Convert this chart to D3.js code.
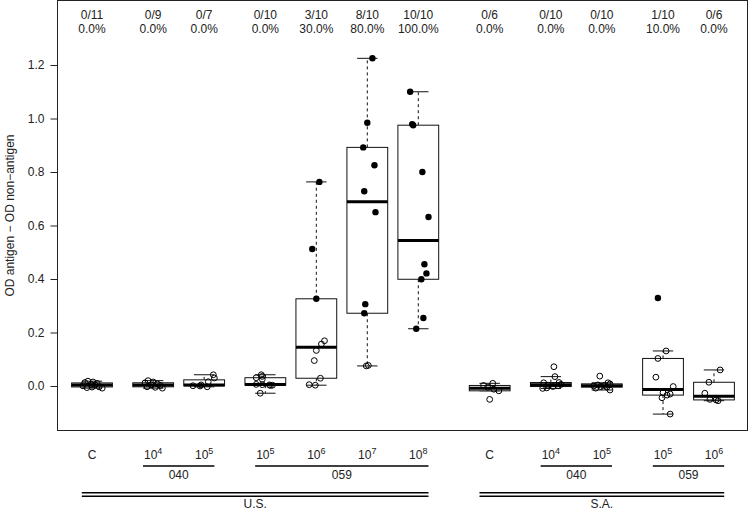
<!DOCTYPE html>
<html>
<head>
<meta charset="utf-8">
<script src="https://cdnjs.cloudflare.com/ajax/libs/d3/7.8.5/d3.min.js"></script>
<style>
    body { margin: 0; background: #fff; }
    svg { display: block; font-family: "Liberation Sans", Arial, sans-serif; }
</style>
</head>
<body>
<div id="chart"></div>
<script>
// groups, left to right
const regions = ["U.S.", "U.S.", "U.S.", "U.S.", "U.S.", "U.S.", "U.S.", "S.A.", "S.A.", "S.A.", "S.A.", "S.A."];
const strains = ["C", "040", "040", "059", "059", "059", "059", "C", "040", "040", "059", "059"];
const doseExp = [null, 4, 5, 5, 6, 7, 8, null, 4, 5, 5, 6];

// OD antigen - OD non-antigen, per group
const usC     = [0.018, 0.015, 0.013, 0.010, 0.006, 0.004, 0.001, -0.003, -0.004, -0.006, -0.008];
const us040e4 = [0.020, 0.015, 0.012, 0.008, 0.004, 0.002, -0.003, -0.005, -0.008];
const us040e5 = [0.042, 0.030, 0.016, 0.004, 0.001, 0.000, -0.003];
const us059e5 = [0.042, 0.036, 0.031, 0.025, 0.006, 0.005, 0.004, 0.003, 0.002, -0.027];
const us059e6 = [0.763, 0.512, 0.326, 0.169, 0.157, 0.133, 0.095, 0.029, 0.005, 0.003];
const us059e7 = [1.225, 0.984, 0.892, 0.825, 0.728, 0.650, 0.306, 0.272, 0.077, 0.075];
const us059e8 = [1.100, 0.979, 0.975, 0.800, 0.632, 0.455, 0.421, 0.399, 0.254, 0.214];
const saC     = [0.010, 0.002, -0.005, -0.012, -0.018, -0.050];
const sa040e4 = [0.072, 0.035, 0.013, 0.012, 0.006, 0.003, 0.001, -0.002, -0.007, -0.009];
const sa040e5 = [0.037, 0.012, 0.008, 0.004, 0.002, 0.000, -0.002, -0.004, -0.008, -0.015];
const sa059e5 = [0.329, 0.131, 0.103, 0.033, -0.002, -0.025, -0.030, -0.034, -0.044, -0.105];
const sa059e6 = [0.060, 0.014, -0.027, -0.050, -0.052, -0.055];

// horizontal jitter of each point (in group units)
const usCJit     = [-0.08, 0.02, -0.14, 0.10, -0.02, 0.06, -0.18, 0.14, 0.00, -0.10, 0.20];
const us040e4Jit = [-0.10, 0.00, -0.16, 0.08, -0.04, 0.14, -0.12, 0.04, 0.18];
const us040e5Jit = [0.18, 0.20, 0.08, -0.06, -0.22, -0.08, 0.06];
const us059e5Jit = [-0.08, -0.06, -0.18, -0.06, -0.18, -0.06, 0.08, 0.14, 0.10, -0.10];
const us059e6Jit = [0.06, -0.08, 0.00, 0.16, 0.10, 0.00, -0.04, 0.08, -0.14, -0.02];
const us059e7Jit = [0.10, 0.00, -0.08, 0.14, -0.06, 0.16, -0.04, -0.06, 0.02, -0.02];
const us059e8Jit = [-0.16, -0.12, -0.10, 0.08, 0.20, 0.12, 0.16, 0.06, 0.10, -0.04];
const saCJit     = [0.06, -0.12, -0.04, 0.08, 0.18, 0.00];
const sa040e4Jit = [0.06, 0.08, 0.16, -0.14, 0.20, -0.06, 0.14, 0.04, -0.08, -0.16];
const sa040e5Jit = [-0.04, 0.12, 0.16, -0.08, 0.06, -0.16, -0.02, 0.10, -0.12, 0.16];
const sa059e5Jit = [-0.10, 0.06, -0.10, -0.14, 0.20, 0.00, 0.14, 0.08, -0.02, 0.14];
const sa059e6Jit = [0.12, -0.10, -0.18, -0.08, 0.04, 0.08];

const cutoff = 0.2;
const yTicks = [0, 0.2, 0.4, 0.6, 0.8, 1.0, 1.2];

const values = [usC, us040e4, us040e5, us059e5, us059e6, us059e7, us059e8, saC, sa040e4, sa040e5, sa059e5, sa059e6];
const jitter = [usCJit, us040e4Jit, us040e5Jit, us059e5Jit, us059e6Jit, us059e7Jit, us059e8Jit, saCJit, sa040e4Jit, sa040e5Jit, sa059e5Jit, sa059e6Jit];

// R style fivenum (Tukey hinges)
const fivenum = vals => {
    let s = vals.slice().sort((a, b) => a - b), n = s.length;
    let n4 = Math.floor((n + 3) / 2) / 2;
    let d = [1, n4, (n + 1) / 2, n + 1 - n4, n];
    return d.map(i => 0.5 * (s[Math.floor(i) - 1] + s[Math.ceil(i) - 1]));
};

const renderChart = (container) => {
    const width = 750, height = 509;
    const plot = {left: 57.5, right: 747.5, top: 0.5, bottom: 430.5};

    // group positions: extra gap when strain changes, more when region changes
    let pos = [], p = 0;
    regions.forEach((r, i) => {
        if (i > 0) {
            p += 1;
            if (r !== regions[i - 1]) p += 0.4;
            else if (strains[i] !== strains[i - 1]) p += 0.2;
        }
        pos.push(p);
    });

    let x = d3.scaleLinear().domain([0, 12.2]).range([92, 714]);
    let y = d3.scaleLinear().domain([0, 1.2]).range([386, 65]);

    let svg = d3.select(container)
        .append("svg")
        .attr("width", width)
        .attr("height", height);

    // y axis
    svg.append("g")
        .attr("transform", "translate(" + plot.left + ",0)")
        .call(d3.axisLeft(y).tickValues(yTicks).tickFormat(d3.format(".1f")).tickSize(7).tickPadding(6))
        .call(g => g.select(".domain").remove())
        .call(g => g.selectAll("line").attr("stroke", "#222"))
        .call(g => g.selectAll("text").attr("font-size", 12).attr("fill", "#222")
            .attr("font-family", "'Liberation Sans', Arial, sans-serif"));

    svg.append("text")
        .attr("transform", "translate(14," + ((plot.top + plot.bottom) / 2) + ") rotate(-90)")
        .attr("text-anchor", "middle")
        .attr("font-size", 12)
        .attr("fill", "#222")
        .text("OD antigen \u2212 OD non\u2212antigen");

    let stats = values.map(v => {
        let f = fivenum(v), iqr = f[3] - f[1];
        let lo = d3.min(v.filter(d => d >= f[1] - 1.5 * iqr));
        let hi = d3.max(v.filter(d => d <= f[3] + 1.5 * iqr));
        return {q1: f[1], med: f[2], q3: f[3], lo: lo, hi: hi};
    });

    let boxW = x(0.4) - x(0), capW = x(0.2) - x(0);

    let boxes = svg.append("g").attr("class", "boxes")
        .selectAll("g")
        .data(stats)
        .enter().append("g")
        .attr("transform", (d, i) => "translate(" + x(pos[i]) + ",0)");

    // whiskers
    boxes.append("line")
        .attr("y1", d => y(d.q3)).attr("y2", d => y(d.hi))
        .attr("stroke", "#111").attr("stroke-dasharray", "3,3");
    boxes.append("line")
        .attr("y1", d => y(d.q1)).attr("y2", d => y(d.lo))
        .attr("stroke", "#111").attr("stroke-dasharray", "3,3");
    boxes.append("line")
        .attr("x1", -capW).attr("x2", capW)
        .attr("y1", d => y(d.hi)).attr("y2", d => y(d.hi))
        .attr("stroke", "#111");
    boxes.append("line")
        .attr("x1", -capW).attr("x2", capW)
        .attr("y1", d => y(d.lo)).attr("y2", d => y(d.lo))
        .attr("stroke", "#111");

    boxes.append("rect")
        .attr("x", -boxW).attr("width", 2 * boxW)
        .attr("y", d => y(d.q3))
        .attr("height", d => Math.max(0.5, y(d.q1) - y(d.q3)))
        .attr("fill", "white")
        .attr("stroke", "#111");

    boxes.append("line")
        .attr("x1", -boxW).attr("x2", boxW)
        .attr("y1", d => y(d.med)).attr("y2", d => y(d.med))
        .attr("stroke", "#000").attr("stroke-width", 3);

    // points
    let pts = [];
    values.forEach((v, i) => v.forEach((d, j) => pts.push({v: d, x: pos[i] + jitter[i][j]})));

    svg.append("g").attr("class", "points")
        .selectAll("circle")
        .data(pts)
        .enter().append("circle")
        .attr("cx", d => x(d.x))
        .attr("cy", d => y(d.v))
        .attr("r", d => d.v > cutoff ? 3.2 : 2.9)
        .attr("fill", d => d.v > cutoff ? "#000" : "none")
        .attr("stroke", "#000")
        .attr("stroke-width", d => d.v > cutoff ? 0 : 1);

    // plot frame
    svg.append("rect")
        .attr("x", plot.left).attr("y", plot.top)
        .attr("width", plot.right - plot.left)
        .attr("height", plot.bottom - plot.top)
        .attr("fill", "none")
        .attr("stroke", "#222");

    // positives / n on top
    let top = svg.append("g").attr("font-size", 12).attr("fill", "#222").attr("text-anchor", "middle");
    values.forEach((v, i) => {
        let k = v.filter(d => d > cutoff).length;
        top.append("text").attr("x", x(pos[i])).attr("y", 18.5).text(k + "/" + v.length);
        top.append("text").attr("x", x(pos[i])).attr("y", 33).text(d3.format(".1f")(100 * k / v.length) + "%");
    });

    // dose labels
    let bottom = svg.append("g").attr("font-size", 12).attr("fill", "#222").attr("text-anchor", "middle");
    doseExp.forEach((e, i) => {
        let t = bottom.append("text").attr("x", x(pos[i])).attr("y", 458.5);
        if (e === null) {
            t.text("C");
        } else {
            t.append("tspan").text("10");
            t.append("tspan").attr("font-size", 9).attr("dy", -5).text(e);
        }
    });

    // strain and region brackets
    const runs = key => {
        let out = [];
        regions.forEach((r, i) => {
            let k = key(i);
            if (out.length && out[out.length - 1].key === k) out[out.length - 1].last = i;
            else out.push({key: k, first: i, last: i});
        });
        return out;
    };

    runs(i => regions[i] + "|" + strains[i]).filter(d => strains[d.first] !== "C").forEach(d => {
        let x0 = x(pos[d.first] - 0.2), x1 = x(pos[d.last] + 0.2);
        bottom.append("line").attr("x1", x0).attr("x2", x1).attr("y1", 466).attr("y2", 466)
            .attr("stroke", "#000").attr("stroke-width", 1.5);
        bottom.append("text").attr("x", (x0 + x1) / 2).attr("y", 478.5).text(strains[d.first]);
    });

    runs(i => regions[i]).forEach(d => {
        let x0 = x(pos[d.first] - 0.2), x1 = x(pos[d.last] + 0.2);
        [492.8, 496.2].forEach(yy => {
            bottom.append("line").attr("x1", x0).attr("x2", x1).attr("y1", yy).attr("y2", yy)
                .attr("stroke", "#000").attr("stroke-width", 1.6);
        });
        bottom.append("text").attr("x", (x0 + x1) / 2).attr("y", 507.5).text(regions[d.first]);
    });
};

renderChart("#chart");
</script>
</body>
</html>
